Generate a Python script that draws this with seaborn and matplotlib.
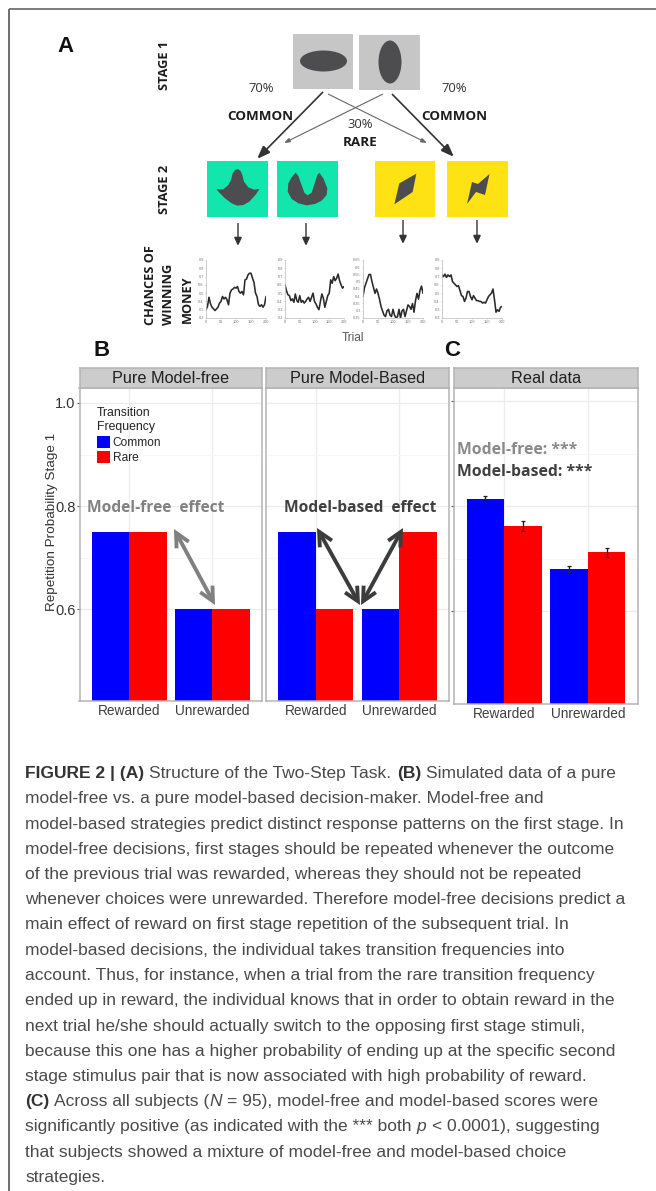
import numpy as np
import pandas as pd
import matplotlib
matplotlib.use("Agg")
import matplotlib.pyplot as plt
from matplotlib.patches import Rectangle, Ellipse, Polygon, FancyArrowPatch, Patch
import seaborn as sns

# ---------- data ----------
outcomes = ["Rewarded", "Unrewarded"]
transitions = ["Common", "Rare"]
free_common = [0.75, 0.60]
free_rare = [0.75, 0.60]
based_common = [0.75, 0.60]
based_rare = [0.60, 0.75]
real_common = [0.813, 0.680]
real_rare = [0.762, 0.712]
real_common_err = [0.0065, 0.006]
real_rare_err = [0.0095, 0.0085]

walk_trials = list(range(0, 201, 5))
walk_1 = [.30,.34,.45,.37,.33,.31,.29,.31,.33,.38,.40,.46,.43,.45,.42,.36,.50,.54,.55,.57,.56,.58,.52,.50,.52,.48,.66,.67,.72,.74,.74,.68,.63,.50,.46,.36,.34,.36,.33,.36,.46]
walk_2 = [.60,.53,.48,.47,.41,.43,.39,.49,.41,.39,.47,.39,.41,.38,.40,.43,.45,.40,.45,.50,.40,.37,.33,.30,.40,.49,.44,.33,.40,.47,.50,.66,.62,.70,.65,.68,.73,.65,.60,.56,.58]
walk_3 = [.40,.46,.49,.52,.55,.55,.50,.46,.42,.45,.42,.38,.33,.30,.27,.26,.30,.31,.27,.26,.31,.27,.25,.26,.31,.25,.30,.31,.26,.30,.34,.33,.31,.35,.29,.37,.42,.38,.44,.47,.42]
walk_4 = [.72,.70,.73,.69,.72,.70,.72,.64,.62,.60,.58,.59,.53,.47,.46,.40,.44,.52,.52,.46,.42,.47,.44,.41,.41,.40,.40,.38,.39,.38,.42,.46,.48,.50,.55,.42,.27,.30,.28,.33,.34]
walk_ticks_a = [.2, .3, .4, .5, .6, .7, .8, .9]
walk_ticks_b = [.25, .3, .35, .4, .45, .5, .55, .6, .65]

caption = [
    [("FIGURE 2 | (A)", "b"), ("Structure of the Two-Step Task.", "r"), ("(B)", "b"), ("Simulated data of a pure", "r")],
    [("model-free vs. a pure model-based decision-maker. Model-free and", "r")],
    [("model-based strategies predict distinct response patterns on the first stage. In", "r")],
    [("model-free decisions, first stages should be repeated whenever the outcome", "r")],
    [("of the previous trial was rewarded, whereas they should not be repeated", "r")],
    [("whenever choices were unrewarded. Therefore model-free decisions predict a", "r")],
    [("main effect of reward on first stage repetition of the subsequent trial. In", "r")],
    [("model-based decisions, the individual takes transition frequencies into", "r")],
    [("account. Thus, for instance, when a trial from the rare transition frequency", "r")],
    [("ended up in reward, the individual knows that in order to obtain reward in the", "r")],
    [("next trial he/she should actually switch to the opposing first stage stimuli,", "r")],
    [("because this one has a higher probability of ending up at the specific second", "r")],
    [("stage stimulus pair that is now associated with high probability of reward.", "r")],
    [("(C)", "b"), ("Across all subjects (", "r+"), ("N", "i"), ("= 95), model-free and model-based scores were", "r")],
    [("significantly positive (as indicated with the *** both", "r"), ("p", "i"), ("< 0.0001), suggesting", "r")],
    [("that subjects showed a mixture of model-free and model-based choice", "r")],
    [("strategies.", "r")],
]

# ---------- set-up ----------
sns.set_theme(style="white")
plt.rcParams["font.family"] = ["Liberation Sans", "DejaVu Sans"]
W, H = 656, 1191
fig = plt.figure(figsize=(W / 100, H / 100), dpi=100, facecolor="white")

def px_axes(x0, y0, x1, y1):
    return fig.add_axes([x0 / W, 1 - y1 / H, (x1 - x0) / W, (y1 - y0) / H])

BLUE, RED = "#0000ff", "#ff0000"
EDGE = "#b4b4b4"

def facet(x0, x1, y_bottom, ylim, common, rare, title, yticklabels=False, yticks_on=True):
    ax = px_axes(x0, 388, x1, y_bottom)
    df = pd.DataFrame({
        "outcome": outcomes * 2,
        "transition": [transitions[0]] * 2 + [transitions[1]] * 2,
        "prob": list(common) + list(rare),
    })
    sns.barplot(data=df, x="outcome", y="prob", hue="transition", order=outcomes,
                hue_order=transitions, palette={"Common": BLUE, "Rare": RED},
                width=0.9, gap=0, saturation=1, linewidth=0, legend=False, ax=ax)
    ax.set_xlim(-0.6, 1.6)
    ax.set_ylim(*ylim)
    ax.set_xlabel("")
    ax.set_ylabel("")
    ax.set_yticks([0.6, 0.8, 1.0])
    ax.set_yticks([0.7, 0.9], minor=True)
    ax.set_axisbelow(True)
    ax.grid(True, which="major", color="#ececec", lw=1)
    ax.grid(True, which="minor", axis="y", color="#f6f6f6", lw=0.8)
    ax.tick_params(axis="x", length=0, labelsize=9.8, labelcolor="#3f3f3f", pad=2.5)
    ax.tick_params(axis="y", which="major", length=2.0 if yticks_on else 0, width=0.8, color="#555555",
                   left=yticks_on, labelsize=10.5, labelcolor="#333333", labelleft=yticklabels, pad=1)
    ax.tick_params(axis="y", which="minor", length=0)
    for s in ax.spines.values():
        s.set_color(EDGE)
        s.set_linewidth(1.1)
    strip = px_axes(x0, 368, x1, 388)
    strip.set_facecolor("#cccccc")
    strip.set_xticks([])
    strip.set_yticks([])
    for s in strip.spines.values():
        s.set_color(EDGE)
        s.set_linewidth(1.1)
    strip.text(0.5, 0.47, title, transform=strip.transAxes, ha="center", va="center",
               fontsize=11.7, color="#1f1f1f")
    return ax

ax_free = facet(79.5, 262, 701, (0.422, 1.029), free_common, free_rare, "Pure Model-free", True)
ax_based = facet(266, 449, 701, (0.422, 1.029), based_common, based_rare, "Pure Model-Based", yticks_on=False)
ax_real = facet(454, 638, 704, (0.423, 1.025), real_common, real_rare, "Real data")
ax_free.set_ylabel("Repetition Probability Stage 1", fontsize=9.7, color="#333333")
ax_free.yaxis.set_label_coords(-0.118, 0.572)

for cont, err in zip(ax_real.containers, (real_common_err, real_rare_err)):
    xs = [b.get_x() + b.get_width() / 2 for b in cont]
    ys = [b.get_height() for b in cont]
    ax_real.errorbar(xs, ys, yerr=err, fmt="none", ecolor="#222222", elinewidth=1.0, capsize=1.4, capthick=0.9)

handles = [Patch(facecolor=BLUE, edgecolor="none"), Patch(facecolor=RED, edgecolor="none")]
leg = ax_free.legend(handles, transitions, title="Transition\nFrequency", loc="upper left",
                     bbox_to_anchor=(0.097, 0.94), frameon=False, fontsize=8.6, title_fontsize=8.8,
                     handlelength=1.1, handleheight=1.15, handletextpad=0.2, labelspacing=0.2,
                     borderpad=0, borderaxespad=0, alignment="left")
leg.get_title().set_color("#222222")
leg.get_title().set_linespacing(1.3)

# ---------- walks ----------
def walk(x0, x1, values, ticks):
    ax = px_axes(x0, 260, x1, 318)
    sns.lineplot(x=walk_trials, y=values, color="#2a2a2a", lw=1.15, ax=ax)
    ax.set_xlim(0, 200)
    ax.set_ylim(ticks[0], ticks[-1])
    ax.set_xticks([0, 50, 100, 150, 200])
    ax.set_yticks(ticks)
    ax.set_yticklabels([f"{t:g}" for t in ticks])
    ax.tick_params(labelsize=2.8, length=1, width=0.4, color="#aaaaaa", labelcolor="#777777", pad=0.6,
                   left=True, bottom=True)
    ax.patch.set_alpha(0)
    for k in ("top", "right"):
        ax.spines[k].set_visible(False)
    for k in ("left", "bottom"):
        ax.spines[k].set_color("#bbbbbb")
        ax.spines[k].set_linewidth(0.5)

walk(206, 266, walk_1, walk_ticks_a)
walk(285, 344, walk_2, walk_ticks_a)
walk(363, 423, walk_3, walk_ticks_b)
walk(442, 502, walk_4, walk_ticks_a)

# ---------- overlay in pixel coordinates ----------
ov = fig.add_axes([0, 0, 1, 1], zorder=10)
ov.set_xlim(0, W)
ov.set_ylim(H, 0)
ov.axis("off")
ov.patch.set_alpha(0)

ov.plot([8.5, 8.5], [H, 9], color="#555555", lw=1.2, solid_capstyle="butt")
ov.plot([8.5, W], [9, 9], color="#666666", lw=1.2, solid_capstyle="butt")

OPEN = ["Open Sans", "DejaVu Sans"]
DARK = "#4d4d4f"
for x, y, s in [(66, 46, "A"), (102, 350, "B"), (452, 350, "C")]:
    ov.text(x, y, s, fontsize=16, fontweight="bold", ha="center", va="center", color="#111111",
            family="Liberation Sans")

def label(x, y, s, size=9.7, weight="bold", color="#1c1c1c", rot=0, ha="center", va="center"):
    ov.text(x, y, s, fontsize=size, fontweight=weight, color=color, rotation=rot, ha=ha, va=va,
            family=OPEN, rotation_mode="anchor")

label(164, 65, "STAGE 1", 9.2, rot=90)
label(164, 189, "STAGE 2", 9.2, rot=90)
label(151, 325, "CHANCES OF", 9.2, rot=90, ha="left")
label(168, 325, "WINNING", 9.2, rot=90, ha="left")
label(187, 323, "MONEY", 9.2, rot=90, ha="left")
label(261, 89, "70%", 9.4, "normal", "#333333")
label(454, 89, "70%", 9.4, "normal", "#333333")
label(360, 124, "30%", 9.4, "normal", "#333333")
label(360, 143, "RARE", 9.7)
label(260.5, 117, "COMMON", 9.7)
label(454, 117, "COMMON", 9.7)
ov.text(353, 338, "Trial", fontsize=8.6, color="#555555", ha="center", va="center")

# stimulus boxes
for x0, y0, x1, y1 in [(293, 34, 353, 89), (359, 35, 420, 90)]:
    ov.add_patch(Rectangle((x0, y0), x1 - x0, y1 - y0, fc="#c6c6c6", ec="none"))
ov.add_patch(Ellipse((323.5, 61), 47, 21, fc=DARK, ec="none"))
ov.add_patch(Ellipse((390, 62), 23, 43, fc=DARK, ec="none"))
for x0, x1, col in [(207, 268, "#12e6ac"), (277, 338, "#12e6ac"), (375, 435, "#ffe214"), (447, 508, "#ffe214")]:
    ov.add_patch(Rectangle((x0, 161), x1 - x0, 56, fc=col, ec="none"))

def zpoly(points):
    return [(120 + x / 3, 150 + y / 3) for x, y in points]

shape1 = [(353,57),(362,63),(367,75),(372,95),(385,112),(402,119),(418,117),(408,133),(388,155),(370,165),(352,167),(335,160),(315,145),(298,128),(289,117),(310,118),(325,105),(333,90),(338,70),(345,60)]
shape2 = [(527,68),(535,78),(543,100),(553,128),(563,136),(575,128),(584,100),(592,75),(598,68),(610,85),(622,115),(620,135),(605,152),(585,162),(560,166),(535,160),(515,147),(503,125),(505,100),(515,82)]
shape3 = [(889,71),(878,126),(823,163),(838,100)]
ov.add_patch(Polygon(zpoly(shape1), fc=DARK, ec="none"))
ov.add_patch(Polygon(zpoly(shape2), fc=DARK, ec="none"))
ov.add_patch(Polygon(zpoly(shape3), fc=DARK, ec="none"))
ov.add_patch(Polygon([(489.5, 174), (485, 195), (476, 192), (467, 204), (472, 182), (478, 184)], fc=DARK, ec="none"))

def arrow(p, q, style, lw, color, ms=1):
    ov.add_patch(FancyArrowPatch(p, q, arrowstyle=style, lw=lw, color=color, mutation_scale=ms,
                                 shrinkA=0, shrinkB=0, joinstyle="miter", capstyle="butt"))

heavy = "-|>,head_length=8,head_width=3"
thin = "-|>,head_length=3.5,head_width=1.3"
arrow((323, 92), (257, 159), heavy, 1.2, "#333333")
arrow((392, 94), (454, 157), heavy, 1.2, "#333333")
arrow((383, 94), (284, 143), thin, 0.8, "#666666")
arrow((328, 94), (427, 143), thin, 0.8, "#666666")
small = "-|>,head_length=5,head_width=2.3"
for x, y0, y1 in [(238, 223, 246), (306, 223, 246), (403, 220, 244), (477, 220, 244)]:
    arrow((x, y0), (x, y1), small, 1.0, "#333333")

double = "<->,head_length=10,head_width=5"
arrow((174, 529), (215, 605), double, 2.8, "#808080")
arrow((317, 528), (360, 605), double, 2.8, "#3c3c3c")
arrow((403, 528), (361, 605), double, 2.8, "#3c3c3c")

ov.text(87, 508, "Model-free  effect", fontsize=11.2, fontweight="bold", color="#828282", va="center", family=OPEN)
ov.text(284, 508, "Model-based  effect", fontsize=11.2, fontweight="bold", color="#404040", va="center", family=OPEN)
ov.text(457, 450, "Model-free: ***", fontsize=11.3, fontweight="bold", color="#8a8a8a", va="center", family=OPEN)
ov.text(457, 472, "Model-based: ***", fontsize=11.3, fontweight="bold", color="#404040", va="center", family=OPEN)

# ---------- caption ----------
renderer = fig.canvas.get_renderer()
CAP_SIZE = 12.48
SPACE = 0.3 * CAP_SIZE * 100 / 72
styles = {"r": dict(color="#4a4a4a"), "b": dict(color="#333333", fontweight="bold"),
          "i": dict(color="#4a4a4a", fontstyle="italic")}
for i, runs in enumerate(caption):
    y = 772 + i * 25.25
    x = 25.0
    for text, st in runs:
        t = ov.text(x, y, text, fontsize=CAP_SIZE, va="center_baseline", **styles[st[0]])
        x += t.get_window_extent(renderer).width + (0 if st == "r+" else SPACE)

fig.savefig("out.png", dpi=100, facecolor="white")
